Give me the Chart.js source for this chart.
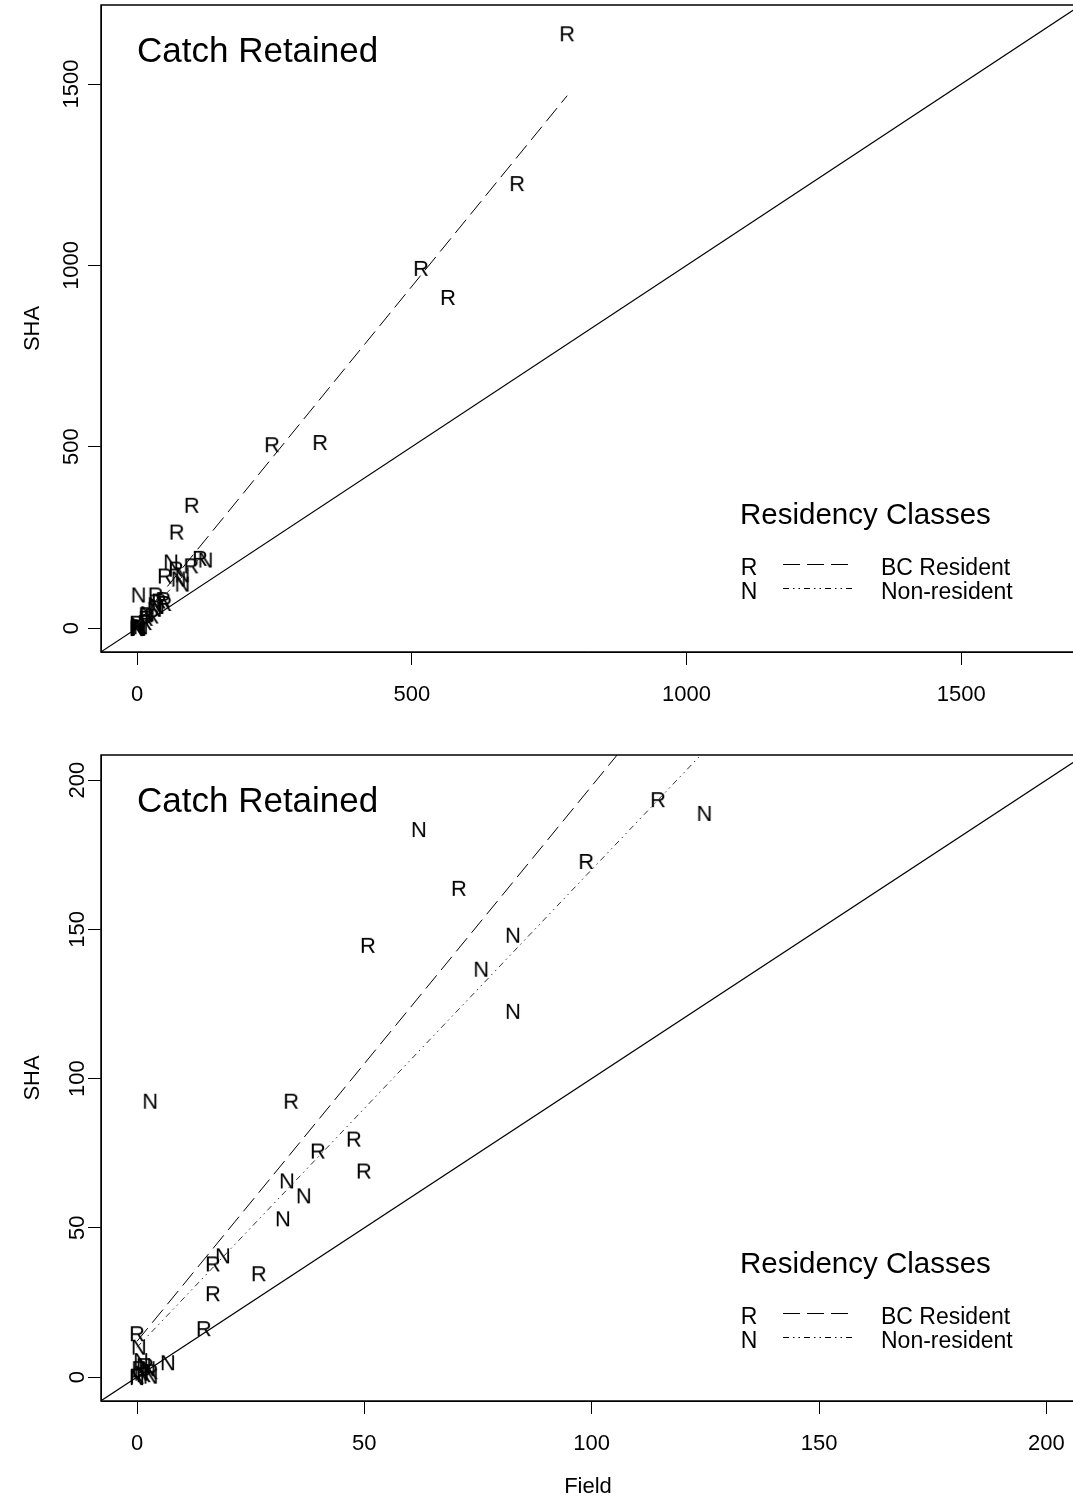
<!DOCTYPE html>
<html>
<head>
<meta charset="utf-8">
<script src="https://cdn.jsdelivr.net/npm/chart.js@4.4.1/dist/chart.umd.min.js"></script>
<style>
  html, body { margin: 0; padding: 0; background: #fff; }
  #wrap { position: relative; width: 1073px; height: 1500px; overflow: hidden; background: #fff; }
  .panel { position: absolute; left: 0; width: 1080px; height: 750px; }
</style>
</head>
<body>
<div id="wrap">
  <div class="panel" style="top:0"><canvas id="fullChart" width="1080" height="750"></canvas></div>
  <div class="panel" style="top:750px"><canvas id="zoomChart" width="1080" height="750"></canvas></div>
</div>
<script>
// BC Resident (R) catch: field estimate vs SHA estimate
const residentField = [782.8, 691.8, 517, 566, 245.8, 333.2, 99.6, 72.2,
  33.9, 50.8, 70.8, 98.8, 114.6, 47.7, 39.8, 49.9, 26.8, 16.7, 16.7, 14.7, 0,
  0.5, 1.5, 2, 0, 3];
const residentSHA = [1640, 1227, 993, 913, 507, 513, 340, 266,
  92.6, 144.8, 163.9, 172.9, 193.6, 79.9, 75.9, 69.2, 34.8, 38.1, 28.1, 16.4, 14.7,
  3, 1, 4, 0.5, 2];

// Non-resident (N) catch
const nonResidentField = [62, 124.8, 82.7, 75.7, 82.7, 2.9, 33, 36.7, 32.1, 18.9,
  6.8, 0.4, 0.9, 1, 2.5, 0, 3, 1.5];
const nonResidentSHA = [183.6, 189, 148.2, 136.8, 122.7, 92.6, 65.9, 60.9, 53.2, 40.8,
  5, 10.2, 5.7, 1.5, 3, 0, 0.5, 4];

// fitted lines [intercept, slope]
const residentFit = [12, 1.86];
const nonResidentFit = [10, 1.6];

const classLetters = ['R', 'N'];
const classNames = ['BC Resident', 'Non-resident'];

const fullTicks = [0, 500, 1000, 1500];
const zoomTicks = [0, 50, 100, 150, 200];

const FONT = '"Liberation Sans", Arial, Helvetica, sans-serif';
const dashR = [17, 7];
const dashN = [6, 4, 1.5, 4, 1.5, 4];

function letterImage(ch) {
  const c = document.createElement('canvas');
  c.width = 22; c.height = 26;
  const g = c.getContext('2d');
  g.font = '22px ' + FONT;
  g.fillStyle = '#000';
  g.textAlign = 'center';
  g.textBaseline = 'alphabetic';
  g.fillText(ch, 11, 13 + 7.9);
  return c;
}
const letterR = letterImage('R');
const letterN = letterImage('N');

function toPoints(xs, ys) {
  return xs.map((x, i) => ({ x: x, y: ys[i] }));
}
function fitLine(fit, xs) {
  const lo = Math.min(...xs), hi = Math.max(...xs);
  return [{ x: lo, y: fit[0] + fit[1] * lo }, { x: hi, y: fit[0] + fit[1] * hi }];
}

const framePlugin = {
  id: 'frame',
  afterDraw(chart) {
    const { ctx, chartArea: a } = chart;
    ctx.save();
    ctx.strokeStyle = '#000';
    ctx.lineWidth = 1.5;
    ctx.strokeRect(a.left, a.top, a.right - a.left, a.bottom - a.top);
    ctx.restore();
  }
};

const notesPlugin = {
  id: 'notes',
  afterDatasetsDraw(chart) {
    const { ctx, chartArea: a } = chart;
    ctx.save();
    ctx.fillStyle = '#000';
    ctx.textBaseline = 'alphabetic';
    ctx.textAlign = 'left';
    ctx.font = '35px ' + FONT;
    ctx.fillText('Catch Retained', a.left + 36, a.top + 57);

    ctx.font = '29.5px ' + FONT;
    ctx.fillText('Residency Classes', a.left + 639, a.bottom - 128.5);

    const dashes = [dashR, dashN];
    classLetters.forEach((ch, i) => {
      const base = a.bottom - 77 + i * 24;
      ctx.font = '23px ' + FONT;
      ctx.textAlign = 'center';
      ctx.fillText(ch, a.left + 648, base);
      ctx.textAlign = 'left';
      ctx.fillText(classNames[i], a.left + 780, base);
      ctx.beginPath();
      ctx.setLineDash(dashes[i]);
      ctx.lineWidth = 1;
      ctx.strokeStyle = '#000';
      ctx.moveTo(a.left + 682, Math.round(base - 11) + 0.5);
      ctx.lineTo(a.left + 752, Math.round(base - 11) + 0.5);
      ctx.stroke();
    });
    ctx.restore();
  }
};

function makePanel(id, xLim, yLim, ticks, showField, topPad, xAxisHeight) {
  const tickFont = { family: FONT, size: 22 };
  const grid = { display: true, drawOnChartArea: false, drawTicks: true, tickLength: 13, color: '#000', lineWidth: 1 };
  const identity = [{ x: yLim[0], y: yLim[0] }, { x: yLim[1], y: yLim[1] }];
  return new Chart(document.getElementById(id).getContext('2d'), {
    type: 'scatter',
    data: {
      datasets: [
        { label: 'identity', data: identity, showLine: true, pointRadius: 0, borderColor: '#000', borderWidth: 1.2 },
        { label: 'R fit', data: fitLine(residentFit, residentField), showLine: true, pointRadius: 0, borderColor: '#000', borderWidth: 1, borderDash: dashR },
        { label: 'N fit', data: fitLine(nonResidentFit, nonResidentField), showLine: true, pointRadius: 0, borderColor: '#333', borderWidth: 1, borderDash: dashN },
        { label: 'BC Resident', data: toPoints(residentField, residentSHA), pointStyle: letterR, pointRadius: 3 },
        { label: 'Non-resident', data: toPoints(nonResidentField, nonResidentSHA), pointStyle: letterN, pointRadius: 3 }
      ]
    },
    options: {
      responsive: false,
      animation: false,
      events: [],
      layout: { padding: { left: 0, right: 5, top: topPad, bottom: 0 } },
      plugins: { legend: { display: false }, tooltip: { enabled: false } },
      scales: {
        x: {
          type: 'linear', min: xLim[0], max: xLim[1],
          afterBuildTicks: s => { s.ticks = ticks.map(v => ({ value: v })); },
          afterFit: s => { s.height = xAxisHeight; s.paddingLeft = 0; s.paddingRight = 0; },
          grid: grid,
          border: { display: true, color: '#000', width: 1 },
          ticks: { font: tickFont, color: '#000', padding: 17, maxRotation: 0, autoSkip: false, callback: v => String(v) },
          title: { display: showField, text: 'Field', font: tickFont, color: '#000', padding: { top: 0, bottom: 0 } }
        },
        y: {
          type: 'linear', min: yLim[0], max: yLim[1],
          afterBuildTicks: s => { s.ticks = ticks.map(v => ({ value: v })); },
          afterFit: s => { s.width = 101; s.paddingTop = 0; s.paddingBottom = 0; },
          grid: grid,
          border: { display: true, color: '#000', width: 1 },
          ticks: { font: tickFont, color: '#000', padding: -8, minRotation: 90, maxRotation: 90, crossAlign: 'center', autoSkip: false, callback: v => String(v) },
          title: { display: true, text: 'SHA', font: tickFont, color: '#000', padding: { top: 20, bottom: 0 } }
        }
      }
    },
    plugins: [framePlugin, notesPlugin]
  });
}

makePanel('fullChart', [-65.6, 1707], [-66, 1718], fullTicks, false, 5, 98);
makePanel('zoomChart', [-7.92, 206.3], [-8, 208.4], zoomTicks, true, 4, 99);
</script>
</body>
</html>
